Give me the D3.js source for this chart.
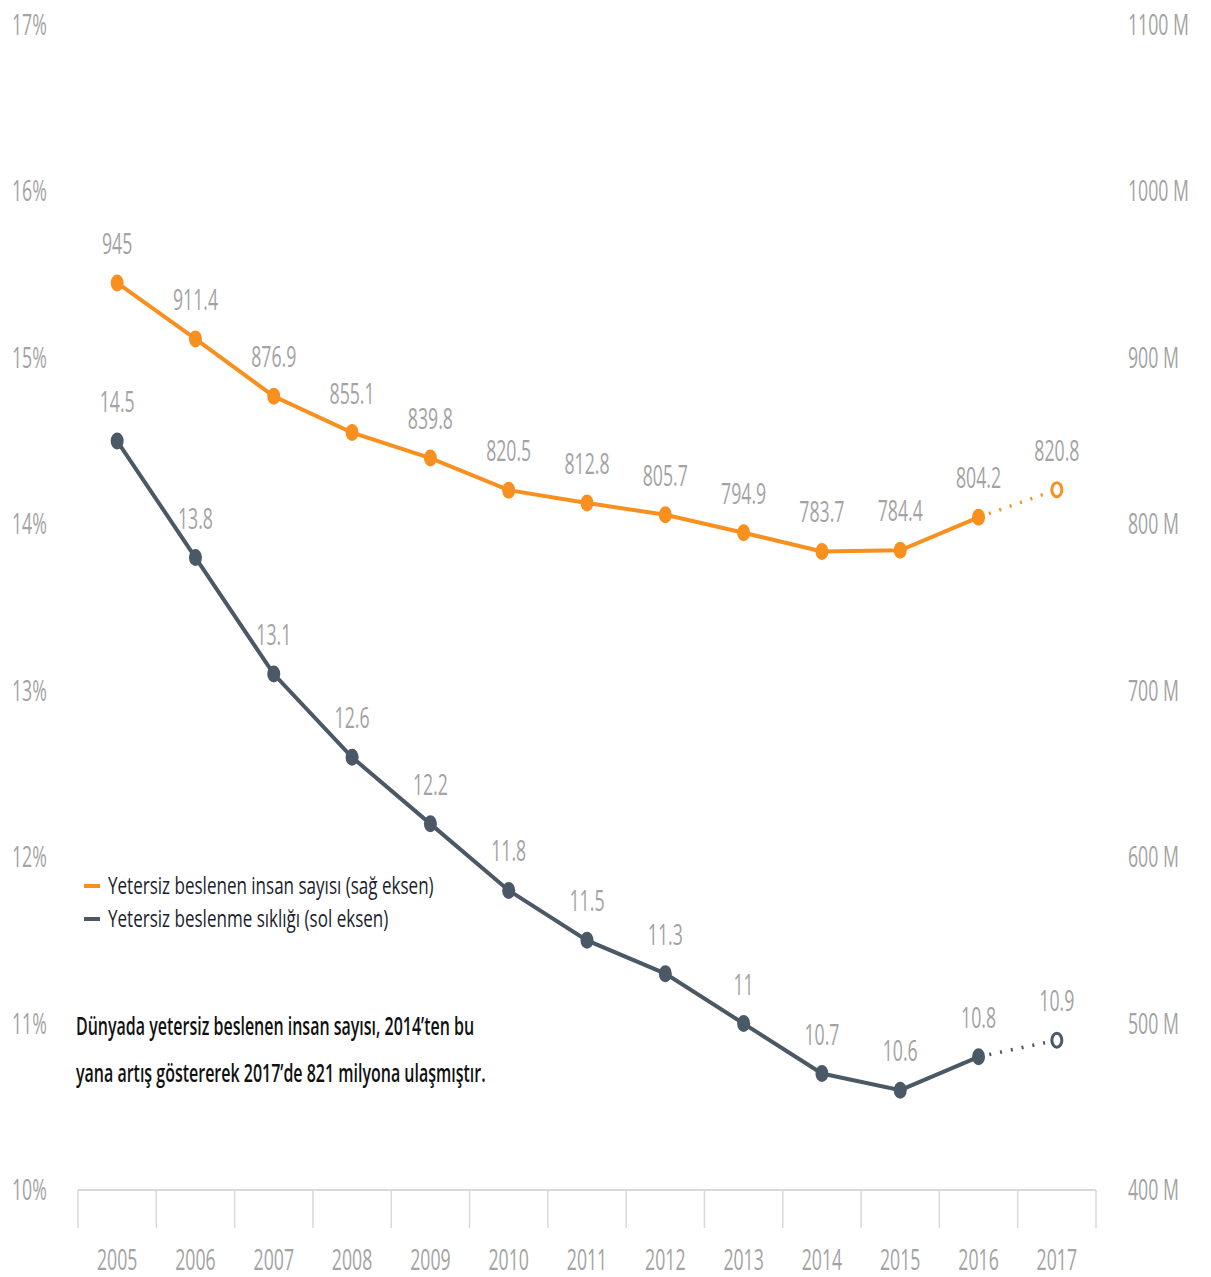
<!DOCTYPE html>
<html>
<head>
<meta charset="utf-8">
<script src="https://cdn.jsdelivr.net/npm/d3@7"></script>
<style>
  body { margin: 0; background: #fff; }
  text { font-family: "Open Sans", sans-serif; }
</style>
</head>
<body>
<div class="hunger_chart"></div>
<script>
const years = ["2005","2006","2007","2008","2009","2010","2011","2012","2013","2014","2015","2016","2017"];
const undernourished = [945, 911.4, 876.9, 855.1, 839.8, 820.5, 812.8, 805.7, 794.9, 783.7, 784.4, 804.2, 820.8];
const prevalence = [14.5, 13.8, 13.1, 12.6, 12.2, 11.8, 11.5, 11.3, 11, 10.7, 10.6, 10.8, 10.9];
const leftTicks = [10, 11, 12, 13, 14, 15, 16, 17];
const rightTicks = [400, 500, 600, 700, 800, 900, 1000, 1100];
const legendItems = [
  { label: "Yetersiz beslenen insan sayısı (sağ eksen)", color: "#f7901e" },
  { label: "Yetersiz beslenme sıklığı (sol eksen)", color: "#4b5866" }
];
const note = ["Dünyada yetersiz beslenen insan sayısı, 2014’ten bu", "yana artış göstererek 2017’de 821 milyona ulaşmıştır."];

const W = 1211, H = 1277;
const squish = 0.61;
const orange = "#f7901e", slate = "#4b5866", grey = "#a3a3a3";

const svg = d3.select(".hunger_chart").append("svg")
  .attr("width", W).attr("height", H);

const x = d3.scaleBand().domain(years).range([78, 1096]).padding(0);
const yL = d3.scaleLinear().domain([10, 17]).range([1190, 25]);
const yR = d3.scaleLinear().domain([400, 1100]).range([1190, 25]);
const cx = (d) => x(d) + x.bandwidth() / 2;

function label(g, tx, ty, str, opts) {
  const k = opts.k || squish;
  g.append("text")
    .attr("transform", `translate(${tx},${ty}) scale(${k},1)`)
    .attr("text-anchor", opts.anchor || "middle")
    .attr("font-size", opts.size || 29)
    .attr("font-weight", opts.weight || 400)
    .attr("fill", opts.fill || grey)
    .text(str);
}

// axis tick labels
const ax = svg.append("g");
leftTicks.forEach((t) => label(ax, 12, yL(t) + 10, `${t}%`, { anchor: "start" }));
rightTicks.forEach((t) => label(ax, 1128, yR(t) + 10, `${t} M`, { anchor: "start" }));
years.forEach((yr) => label(ax, cx(yr), 1270, yr, {}));

// x axis with band separators
ax.append("line").attr("x1", 78).attr("x2", 1096).attr("y1", 1190).attr("y2", 1190)
  .attr("stroke", "#d9d9d9").attr("stroke-width", 2);
const edges = years.map((d) => x(d)).concat([x(years[years.length - 1]) + x.bandwidth()]);
ax.selectAll(".sep").data(edges).enter().append("line")
  .attr("x1", (d) => d).attr("x2", (d) => d).attr("y1", 1190).attr("y2", 1228)
  .attr("stroke", "#d9d9d9").attr("stroke-width", 1.5);

function series(vals, y, color) {
  const pts = vals.map((v, i) => ({ yr: years[i], v }));
  const n = pts.length;
  const line = d3.line().x((d) => cx(d.yr)).y((d) => y(d.v));
  const g = svg.append("g");
  g.append("path").datum(pts.slice(0, n - 1)).attr("d", line)
    .attr("fill", "none").attr("stroke", color).attr("stroke-width", 4);
  g.append("path").datum(pts.slice(n - 2)).attr("d", line)
    .attr("fill", "none").attr("stroke", color).attr("stroke-width", 3.5)
    .attr("stroke-dasharray", "2 9");
  g.selectAll(".pt").data(pts).enter().append("ellipse")
    .attr("cx", (d) => cx(d.yr)).attr("cy", (d) => y(d.v))
    .attr("rx", (d, i) => (i === n - 1 ? 5 : 6.5)).attr("ry", (d, i) => (i === n - 1 ? 7 : 8.5))
    .attr("fill", (d, i) => (i === n - 1 ? "#fff" : color))
    .attr("stroke", color).attr("stroke-width", (d, i) => (i === n - 1 ? 3 : 0));
  pts.forEach((d) => label(g, cx(d.yr), y(d.v) - 29, String(d.v), {}));
}
series(undernourished, yR, orange);
series(prevalence, yL, slate);

// legend
const lg = svg.append("g");
legendItems.forEach((d, i) => {
  const ly = 886 + i * 33;
  lg.append("line").attr("x1", 84).attr("x2", 100).attr("y1", ly).attr("y2", ly)
    .attr("stroke", d.color).attr("stroke-width", 4);
  label(lg, 108, ly + 8, d.label, { anchor: "start", size: 24, fill: "#1a1d2c", k: 0.71 });
});

// note
note.forEach((s, i) => label(svg, 76, 1035 + i * 47, s, { anchor: "start", size: 26, weight: 600, fill: "#111", k: 0.615 }));
</script>
</body>
</html>
